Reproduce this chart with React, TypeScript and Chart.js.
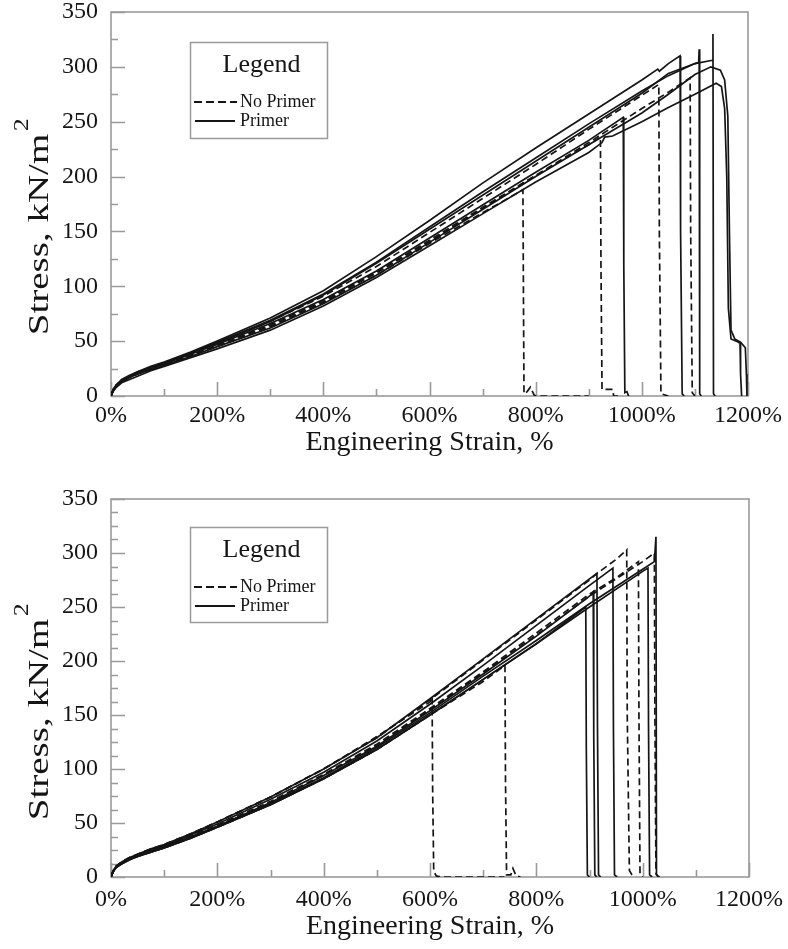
import React, { useEffect, useRef } from 'react';
import { Chart, registerables } from 'chart.js';

Chart.register(...registerables);

const FONT = "'Liberation Serif', 'Times New Roman', serif";
const INK = '#151515';
const FRAME = '#9a9a9a';

// ---------- axis settings ----------
const strainMax = 1200;
const strainStep = 200;
const strainMinorStep = 100;
const stressMax = 350;
const stressStep = 50;
const topStressMinorStep = 25;
const bottomStressMinorStep = 12.5;

const legendTitle = 'Legend';
const legendNoPrimer = 'No Primer';
const legendPrimer = 'Primer';
const xTitle = 'Engineering Strain, %';
const yTitle = 'Stress, kN/m';
const yTitleSup = '2';

// ---------- TOP PANEL ----------
// No primer (dashed)
const topN1Strain = [0, 4, 10, 20, 35, 50, 75, 100, 150, 200, 300, 400, 500, 600, 700, 776, 777, 778, 784, 790, 797, 800, 900];
const topN1Stress = [0, 5, 9, 13, 17, 20, 24, 28, 37, 45, 63, 85, 110, 139, 167, 188, 90, 2, 4, 8, 1, 0, 0];
const topN2Strain = [0, 4, 10, 20, 35, 50, 75, 100, 150, 200, 300, 400, 500, 600, 700, 800, 900, 922, 923, 925, 945, 947, 960];
const topN2Stress = [0, 5, 10, 14, 18, 21, 25, 29, 38, 47, 65, 87, 113, 142, 172, 201, 229, 236, 120, 6, 6, 0, 0];
const topN3Strain = [0, 4, 10, 20, 35, 50, 75, 100, 150, 200, 300, 400, 500, 600, 700, 800, 900, 1000, 1032, 1033, 1036, 1050];
const topN3Stress = [0, 5, 10, 14, 18, 21, 26, 30, 39, 48, 68, 91, 118, 149, 180, 211, 243, 274, 284, 150, 2, 0];
const topN4Strain = [0, 4, 10, 20, 35, 50, 75, 100, 150, 200, 300, 400, 500, 600, 700, 800, 900, 1000, 1050, 1091, 1092, 1095, 1100];
const topN4Stress = [0, 5, 9, 13, 17, 20, 24, 28, 37, 46, 64, 86, 112, 141, 171, 201, 231, 262, 277, 290, 150, 3, 0];
// Primer (solid)
const topP1Strain = [0, 4, 10, 20, 35, 50, 75, 100, 150, 200, 300, 400, 500, 600, 700, 800, 900, 965, 966, 968, 972, 975];
const topP1Stress = [0, 5, 9, 13, 17, 21, 25, 29, 38, 47, 66, 88, 114, 144, 174, 204, 233, 254, 120, 3, 4, 0];
const topP2Strain = [0, 4, 10, 20, 35, 50, 75, 100, 150, 200, 300, 400, 500, 600, 700, 800, 900, 1000, 1030, 1033, 1050, 1072, 1073, 1076, 1080];
const topP2Stress = [0, 6, 10, 15, 19, 22, 27, 31, 40, 50, 71, 96, 127, 160, 194, 226, 257, 288, 298, 296, 303, 310, 150, 2, 0];
const topP3Strain = [0, 4, 10, 20, 35, 50, 75, 100, 150, 200, 300, 400, 500, 600, 700, 800, 900, 1000, 1050, 1100, 1107, 1108, 1109, 1112];
const topP3Stress = [0, 5, 10, 14, 18, 21, 26, 30, 39, 49, 69, 93, 122, 154, 186, 217, 248, 278, 292, 303, 304, 316, 2, 0];
const topP4Strain = [0, 4, 10, 20, 35, 50, 75, 100, 150, 200, 300, 400, 500, 600, 700, 800, 900, 1000, 1050, 1100, 1133, 1134, 1135, 1138];
const topP4Stress = [0, 6, 10, 14, 18, 22, 26, 30, 39, 48, 68, 92, 121, 152, 183, 214, 245, 276, 294, 303, 306, 330, 2, 0];
const topP5Strain = [0, 4, 10, 20, 35, 50, 75, 100, 150, 200, 300, 400, 500, 600, 700, 800, 900, 1000, 1050, 1100, 1130, 1148, 1156, 1162, 1165, 1168, 1175, 1186, 1195, 1197, 1198];
const topP5Stress = [0, 5, 9, 13, 17, 20, 24, 28, 36, 45, 62, 84, 110, 140, 170, 200, 229, 258, 275, 293, 300, 297, 288, 255, 150, 60, 52, 49, 44, 20, 0];
const topP6Strain = [0, 4, 10, 20, 35, 50, 75, 100, 150, 200, 300, 400, 500, 600, 700, 800, 900, 925, 930, 945, 1000, 1050, 1100, 1140, 1150, 1156, 1160, 1163, 1168, 1178, 1185, 1186, 1188];
const topP6Stress = [0, 4, 8, 12, 15, 18, 23, 27, 35, 43, 60, 82, 108, 137, 166, 195, 222, 231, 236, 237, 250, 263, 275, 285, 282, 262, 200, 80, 52, 50, 48, 20, 0];

// ---------- BOTTOM PANEL ----------
// No primer (dashed)
const botN1Strain = [0, 4, 10, 20, 35, 50, 75, 100, 150, 200, 300, 400, 500, 600, 604, 605, 607, 612, 620, 740];
const botN1Stress = [0, 6, 10, 14, 18, 21, 26, 30, 40, 51, 74, 100, 130, 162, 167, 80, 5, 1, 0, 0];
const botN2Strain = [0, 4, 10, 20, 35, 50, 75, 100, 150, 200, 300, 400, 500, 600, 700, 741, 742, 744, 752, 756, 762, 770];
const botN2Stress = [0, 5, 9, 13, 16, 19, 23, 27, 36, 46, 67, 91, 118, 150, 181, 196, 90, 2, 2, 8, 1, 0];
const botN3Strain = [0, 4, 10, 20, 35, 50, 75, 100, 150, 200, 300, 400, 500, 600, 700, 800, 900, 914, 950, 970, 971, 975, 980, 986];
const botN3Stress = [0, 6, 10, 14, 18, 21, 26, 30, 40, 51, 74, 100, 129, 164, 201, 238, 275, 281, 294, 303, 150, 6, 2, 0];
const botN4Strain = [0, 4, 10, 20, 35, 50, 75, 100, 150, 200, 300, 400, 500, 600, 700, 800, 900, 950, 992, 993, 995, 1000];
const botN4Stress = [0, 5, 10, 13, 17, 20, 24, 28, 38, 48, 70, 95, 123, 156, 190, 226, 262, 277, 292, 150, 3, 0];
const botN5Strain = [0, 4, 10, 20, 35, 50, 75, 100, 150, 200, 300, 400, 500, 600, 700, 800, 900, 1000, 1022, 1023, 1025, 1030];
const botN5Stress = [0, 5, 9, 13, 17, 20, 24, 28, 37, 47, 69, 94, 122, 155, 189, 224, 260, 292, 300, 150, 3, 0];
// Primer (solid)
const botP1Strain = [0, 4, 10, 20, 35, 50, 75, 100, 150, 200, 300, 400, 500, 600, 700, 800, 893, 894, 896, 900];
const botP1Stress = [0, 5, 9, 12, 16, 19, 23, 27, 36, 46, 67, 91, 118, 150, 183, 216, 250, 120, 2, 0];
const botP2Strain = [0, 4, 10, 20, 35, 50, 75, 100, 150, 200, 300, 400, 500, 600, 700, 800, 900, 907, 908, 910, 914];
const botP2Stress = [0, 5, 9, 13, 17, 20, 24, 28, 37, 47, 69, 94, 121, 154, 188, 223, 260, 264, 130, 2, 0];
const botP3Strain = [0, 4, 10, 20, 35, 50, 75, 100, 150, 200, 300, 400, 500, 600, 700, 800, 900, 914, 915, 917, 921];
const botP3Stress = [0, 6, 10, 14, 18, 21, 26, 30, 40, 51, 74, 100, 129, 165, 202, 239, 276, 281, 140, 2, 0];
const botP4Strain = [0, 4, 10, 20, 35, 50, 75, 100, 150, 200, 300, 400, 500, 600, 700, 800, 900, 944, 945, 947, 952];
const botP4Stress = [0, 5, 10, 13, 17, 20, 25, 29, 39, 49, 72, 97, 126, 160, 196, 233, 270, 286, 140, 2, 0];
const botP5Strain = [0, 4, 10, 20, 35, 50, 75, 100, 150, 200, 300, 400, 500, 600, 700, 800, 900, 1000, 1010, 1011, 1013, 1018];
const botP5Stress = [0, 5, 9, 12, 16, 19, 23, 27, 36, 46, 67, 91, 118, 150, 183, 216, 250, 283, 286, 140, 2, 0];
const botP6Strain = [0, 4, 10, 20, 35, 50, 75, 100, 150, 200, 300, 400, 500, 600, 700, 800, 900, 1000, 1022, 1025, 1026, 1028, 1032];
const botP6Stress = [0, 5, 9, 13, 17, 20, 24, 28, 37, 47, 68, 92, 120, 152, 186, 219, 253, 285, 292, 315, 2, 1, 0];

type Curve = { strain: number[]; stress: number[]; primer: boolean };

const topCurves: Curve[] = [
  { strain: topN1Strain, stress: topN1Stress, primer: false },
  { strain: topN2Strain, stress: topN2Stress, primer: false },
  { strain: topN3Strain, stress: topN3Stress, primer: false },
  { strain: topN4Strain, stress: topN4Stress, primer: false },
  { strain: topP1Strain, stress: topP1Stress, primer: true },
  { strain: topP2Strain, stress: topP2Stress, primer: true },
  { strain: topP3Strain, stress: topP3Stress, primer: true },
  { strain: topP4Strain, stress: topP4Stress, primer: true },
  { strain: topP5Strain, stress: topP5Stress, primer: true },
  { strain: topP6Strain, stress: topP6Stress, primer: true },
];

const bottomCurves: Curve[] = [
  { strain: botN1Strain, stress: botN1Stress, primer: false },
  { strain: botN2Strain, stress: botN2Stress, primer: false },
  { strain: botN3Strain, stress: botN3Stress, primer: false },
  { strain: botN4Strain, stress: botN4Stress, primer: false },
  { strain: botN5Strain, stress: botN5Stress, primer: false },
  { strain: botP1Strain, stress: botP1Stress, primer: true },
  { strain: botP2Strain, stress: botP2Stress, primer: true },
  { strain: botP3Strain, stress: botP3Stress, primer: true },
  { strain: botP4Strain, stress: botP4Stress, primer: true },
  { strain: botP5Strain, stress: botP5Stress, primer: true },
  { strain: botP6Strain, stress: botP6Stress, primer: true },
];

type PanelLayout = {
  height: number;
  padTop: number;
  padRight: number;
  yAxisWidth: number;
  xAxisHeight: number;
  xTickPad: number;
  xTitlePad: number;
  yMinorStep: number;
  legendBox: { left: number; top: number; width: number; height: number };
  yTitleCenter: number;
};

const makeFramePlugin = (minorY: number) => ({
  id: 'frameTicks',
  beforeDatasetsDraw(chart: any) {
    const { ctx, chartArea: a, scales } = chart;
    const xs = scales.x;
    const ys = scales.y;
    ctx.save();
    ctx.strokeStyle = FRAME;
    ctx.lineWidth = 1.6;
    ctx.strokeRect(a.left, a.top, a.right - a.left, a.bottom - a.top);
    ctx.beginPath();
    for (let v = 0; v <= strainMax; v += strainMinorStep) {
      const px = Math.round(xs.getPixelForValue(v)) + 0.5;
      const len = v % strainStep === 0 ? 14 : 7;
      ctx.moveTo(px, a.bottom);
      ctx.lineTo(px, a.bottom - len);
    }
    for (let v = 0; v <= stressMax; v += minorY) {
      const py = Math.round(ys.getPixelForValue(v)) + 0.5;
      const len = v % stressStep === 0 ? 14 : 7;
      ctx.moveTo(a.left, py);
      ctx.lineTo(a.left + len, py);
    }
    ctx.stroke();
    ctx.restore();
  },
});

const makeLegendPlugin = (box: PanelLayout['legendBox']) => ({
  id: 'boxLegend',
  afterDraw(chart: any) {
    const { ctx } = chart;
    ctx.save();
    ctx.strokeStyle = FRAME;
    ctx.lineWidth = 1.5;
    ctx.strokeRect(box.left + 0.5, box.top + 0.5, box.width, box.height);
    ctx.fillStyle = INK;
    ctx.textBaseline = 'alphabetic';
    ctx.textAlign = 'center';
    ctx.font = `26px ${FONT}`;
    ctx.fillText(legendTitle, box.left + box.width / 2 + 3, box.top + 30);
    ctx.textAlign = 'left';
    ctx.font = `18px ${FONT}`;
    ctx.fillText(legendNoPrimer, box.left + 50, box.top + 65);
    ctx.fillText(legendPrimer, box.left + 50, box.top + 84);
    ctx.strokeStyle = INK;
    ctx.lineWidth = 1.8;
    ctx.setLineDash([8, 4]);
    ctx.beginPath();
    ctx.moveTo(box.left + 4, box.top + 60);
    ctx.lineTo(box.left + 47, box.top + 60);
    ctx.stroke();
    ctx.setLineDash([]);
    ctx.beginPath();
    ctx.moveTo(box.left + 5, box.top + 79);
    ctx.lineTo(box.left + 45, box.top + 79);
    ctx.stroke();
    ctx.restore();
  },
});

const makeYTitlePlugin = (centerY: number) => ({
  id: 'yTitle',
  afterDraw(chart: any) {
    const { ctx } = chart;
    ctx.save();
    ctx.fillStyle = INK;
    ctx.font = `30px ${FONT}`;
    const w = ctx.measureText(yTitle).width;
    ctx.font = `20px ${FONT}`;
    const w2 = ctx.measureText(yTitleSup).width;
    ctx.translate(48, centerY);
    ctx.rotate(-Math.PI / 2);
    ctx.scale(1.3, 1);
    ctx.textAlign = 'left';
    ctx.textBaseline = 'alphabetic';
    const start = -(w + w2) / 2;
    ctx.font = `30px ${FONT}`;
    ctx.fillText(yTitle, start, 0);
    ctx.font = `20px ${FONT}`;
    ctx.fillText(yTitleSup, start + w + 2, -20);
    ctx.restore();
  },
});

function Panel({ curves, layout }: { curves: Curve[]; layout: PanelLayout }) {
  const ref = useRef<HTMLCanvasElement | null>(null);
  useEffect(() => {
    if (!ref.current) return;
    const chart = new Chart(ref.current, {
      type: 'scatter',
      data: {
        datasets: curves.map((c) => ({
          data: c.strain.map((x, i) => ({ x, y: c.stress[i] })),
          showLine: true,
          borderColor: INK,
          borderWidth: 1.7,
          borderDash: c.primer ? [] : [7, 4],
          pointRadius: 0,
          pointHoverRadius: 0,
          fill: false,
          tension: 0,
        })),
      },
      options: {
        animation: false,
        responsive: false,
        maintainAspectRatio: false,
        devicePixelRatio: 1,
        layout: { padding: { left: 0, right: layout.padRight, top: layout.padTop, bottom: 0 } },
        plugins: { legend: { display: false }, tooltip: { enabled: false } },
        scales: {
          x: {
            type: 'linear',
            min: 0,
            max: strainMax,
            grid: { display: false },
            border: { display: false },
            ticks: {
              stepSize: strainStep,
              autoSkip: false,
              maxRotation: 0,
              padding: layout.xTickPad,
              color: INK,
              font: { family: FONT, size: 24 },
              callback: (v: any) => `${v}%`,
            },
            title: {
              display: true,
              text: xTitle,
              color: INK,
              font: { family: FONT, size: 28 },
              padding: { top: 0, bottom: layout.xTitlePad },
            },
            afterFit: (s: any) => {
              s.height = layout.xAxisHeight;
            },
          },
          y: {
            type: 'linear',
            min: 0,
            max: stressMax,
            grid: { display: false },
            border: { display: false },
            ticks: {
              stepSize: stressStep,
              padding: 5,
              color: INK,
              font: { family: FONT, size: 24, lineHeight: 0.55 },
            },
            afterFit: (s: any) => {
              s.width = layout.yAxisWidth;
            },
          },
        },
      },
      plugins: [
        makeFramePlugin(layout.yMinorStep),
        makeLegendPlugin(layout.legendBox),
        makeYTitlePlugin(layout.yTitleCenter),
      ],
    } as any);
    return () => chart.destroy();
  }, []);
  return <canvas ref={ref} width={788} height={layout.height} style={{ display: 'block', width: 788, height: layout.height }} />;
}

const topLayout: PanelLayout = {
  height: 470,
  padTop: 12,
  padRight: 40,
  yAxisWidth: 111,
  xAxisHeight: 74,
  xTickPad: -3,
  xTitlePad: 11,
  yMinorStep: topStressMinorStep,
  legendBox: { left: 190, top: 42, width: 137, height: 96 },
  yTitleCenter: 228,
};

const bottomLayout: PanelLayout = {
  height: 479,
  padTop: 29,
  padRight: 39,
  yAxisWidth: 111,
  xAxisHeight: 72,
  xTickPad: 0,
  xTitlePad: 6,
  yMinorStep: bottomStressMinorStep,
  legendBox: { left: 190, top: 57, width: 137, height: 95 },
  yTitleCenter: 243,
};

export default function App() {
  useEffect(() => {
    document.body.style.margin = '0';
    document.body.style.background = '#fff';
  }, []);
  return (
    <div style={{ position: 'absolute', left: 0, top: 0, width: 788, height: 949, background: '#fff' }}>
      <Panel curves={topCurves} layout={topLayout} />
      <Panel curves={bottomCurves} layout={bottomLayout} />
    </div>
  );
}
